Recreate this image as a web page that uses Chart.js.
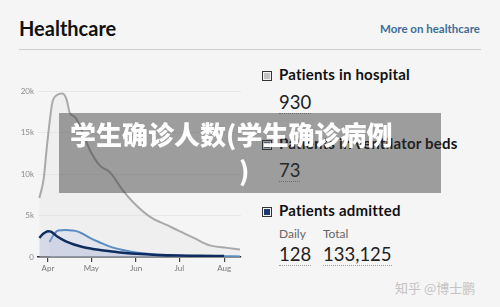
<!DOCTYPE html>
<html>
<head>
<meta charset="utf-8">
<script src="https://cdn.jsdelivr.net/npm/chart.js@4/dist/chart.umd.min.js"></script>
<style>
  body { margin: 0; width: 500px; height: 307px; background: #f5f5f5; font-family: Lato, "Open Sans", sans-serif; position: relative; overflow: hidden; }
  .abs { position: absolute; }
  #title { left: 19px; top: 16px; font-size: 20px; font-weight: 700; color: #111; }
  #more { left: 380px; top: 22px; font-size: 11.5px; font-weight: 700; color: #3f6d99; }
  #rule { left: 19px; top: 49px; width: 462px; height: 1px; background: #cfcfcf; }
  #chart { left: 0; top: 81px; }
  .sq { width: 8px; height: 8px; border: 1px solid #333; box-shadow: inset 0 0 0 1px #f5f5f5; }
  .lbl { font-size: 15px; font-weight: 700; color: #111; white-space: nowrap; letter-spacing: 0.2px; }
  .num { font-size: 18.5px; color: #222; border-bottom: 1px dotted #999; line-height: 20px; padding-bottom: 1px; }
  .sub { font-size: 12px; color: #666; }
  #overlay { left: 59px; top: 113px; width: 382px; height: 80px; background: rgba(50,50,50,0.45); color: #fff;
             font-family: "Noto Sans CJK SC", sans-serif; font-weight: 900; font-size: 26px; line-height: 36px; }
  #wm { left: 395px; top: 278px; font-size: 13px; color: #c4c4c4; font-family: "Noto Sans CJK SC", sans-serif; }
</style>
</head>
<body>
<div id="title" class="abs">Healthcare</div>
<div id="more" class="abs">More on healthcare</div>
<div id="rule" class="abs"></div>

<canvas id="chart" class="abs" width="245" height="200"></canvas>

<div class="abs sq" style="left:262px;top:71px;background:#c4c4c4"></div>
<div class="abs lbl" style="left:279px;top:65px">Patients in hospital</div>
<div class="abs num" style="left:279px;top:92px">930</div>

<div class="abs sq" style="left:262px;top:140px;background:#5d7ea6"></div>
<div class="abs lbl" style="left:279px;top:134px">Patients in ventilator beds</div>
<div class="abs num" style="left:279px;top:160px">73</div>

<div class="abs sq" style="left:262px;top:207px;background:#1d3a72"></div>
<div class="abs lbl" style="left:279px;top:201px">Patients admitted</div>
<div class="abs sub" style="left:279px;top:226px">Daily</div>
<div class="abs sub" style="left:323px;top:226px">Total</div>
<div class="abs num" style="left:279px;top:244px">128</div>
<div class="abs num" style="left:323px;top:244px">133,125</div>

<div id="overlay" class="abs">
  <div style="padding-left:11px;padding-top:3px;white-space:nowrap">学生确诊人数(学生确诊病例</div>
  <div style="padding-left:180px">)</div>
</div>
<div id="wm" class="abs">知乎 @博士鹏</div>

<script>
// days counted from 1 April
const xTickDays = [0, 30, 61, 91, 122];
const xTickLabels = ["Apr", "May", "Jun", "Jul", "Aug"];
const yTickLabels = ["0", "5k", "10k", "15k", "20k"];

const hospitalDays = [-6, -3, -1, 1, 3, 6, 10, 13, 15, 19, 24, 29, 36, 43, 52, 59, 71, 83, 90, 101, 112, 124, 133];
const hospitalValues = [7100, 9400, 12900, 16100, 18600, 19500, 19700, 18900, 17400, 16800, 15000, 12900, 11000, 10200, 8000, 6600, 4800, 3800, 3200, 2300, 1400, 1100, 900];

const ventDays = [1, 4, 7, 12, 16, 19, 24, 29, 36, 43, 52, 61, 75, 90, 105, 120, 133];
const ventValues = [1800, 2700, 3200, 3250, 3200, 3150, 2800, 2300, 1750, 1250, 850, 550, 300, 170, 120, 90, 75];

const admittedDays = [-6, -4, -2, 0, 2, 4, 7, 12, 18, 24, 30, 35, 43, 52, 61, 75, 90, 105, 122];
const admittedValues = [2300, 2700, 2950, 3100, 3050, 2800, 2400, 1900, 1500, 1200, 1000, 870, 700, 500, 380, 250, 170, 140, 128];

function pts(days, vals) {
  return days.map((d, i) => ({ x: d, y: vals[i] }));
}

Chart.defaults.font.family = "Lato, 'Open Sans', sans-serif";

new Chart(document.getElementById("chart"), {
  type: "line",
  data: {
    datasets: [
      {
        label: "Patients admitted",
        data: pts(admittedDays, admittedValues),
        borderColor: "#0f2c5f",
        borderWidth: 2.5,
        backgroundColor: "rgba(170,180,215,0.35)",
        fill: "origin"
      },
      {
        label: "Patients in ventilator beds",
        data: pts(ventDays, ventValues),
        borderColor: "#5a8cc2",
        borderWidth: 2,
        backgroundColor: "rgba(195,205,230,0.3)",
        fill: "origin"
      },
      {
        label: "Patients in hospital",
        data: pts(hospitalDays, hospitalValues),
        borderColor: "#a9a9a9",
        borderWidth: 2,
        backgroundColor: "rgba(225,225,225,0.3)",
        fill: "origin"
      }
    ]
  },
  options: {
    responsive: false,
    animation: false,
    layout: { padding: { top: 10, right: 4, left: 0, bottom: 0 } },
    elements: {
      point: { radius: 0 },
      line: { cubicInterpolationMode: "monotone" }
    },
    plugins: { legend: { display: false }, tooltip: { enabled: false } },
    scales: {
      x: {
        type: "linear",
        min: -6.93,
        max: 133.7,
        afterFit: s => { s.height = 24; },
        afterBuildTicks: s => { s.ticks = xTickDays.map(v => ({ value: v })); },
        ticks: {
          callback: (v, i) => xTickLabels[i],
          color: "#777",
          font: { size: 8 },
          padding: 2,
          maxRotation: 0,
          autoSkip: false
        },
        grid: { drawOnChartArea: false, drawTicks: true, tickLength: 5, color: "#444", lineWidth: 1.2 },
        border: { color: "#333", width: 1.5 }
      },
      y: {
        min: 0,
        max: 20000,
        afterFit: s => { s.width = 38; },
        afterBuildTicks: s => { s.ticks = [0, 5000, 10000, 15000, 20000].map(v => ({ value: v })); },
        ticks: {
          callback: (v, i) => yTickLabels[i],
          color: "#8a8a8a",
          font: { size: 8 },
          padding: 4
        },
        grid: { color: "#e8e8e8", drawTicks: false },
        border: { display: false }
      }
    }
  }
});
</script>
</body>
</html>
